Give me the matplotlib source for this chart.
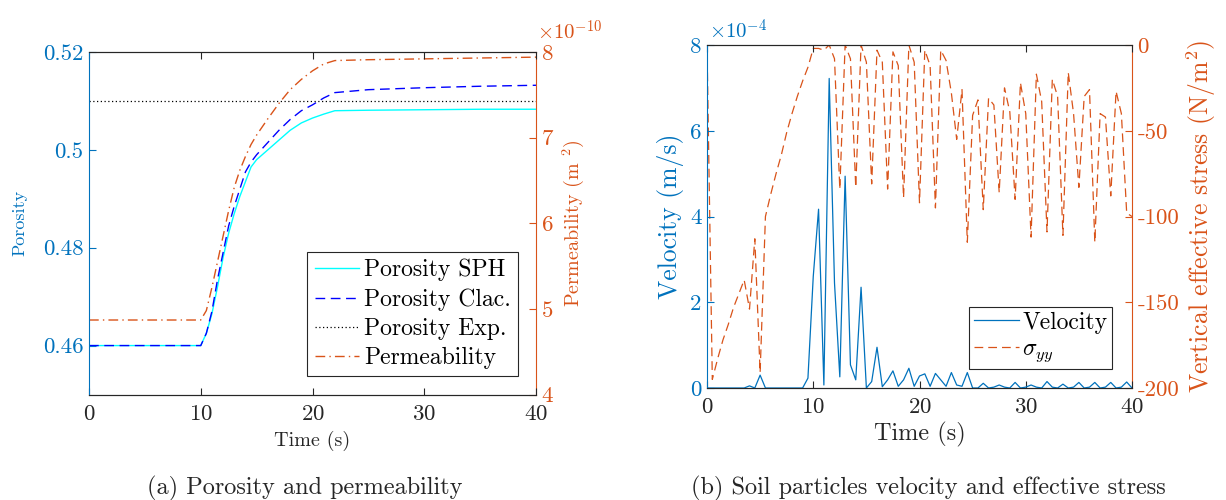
import matplotlib
matplotlib.use('Agg')
import matplotlib.pyplot as plt
import numpy as np
from matplotlib.lines import Line2D

plt.rcParams['font.family'] = ['cmr10', 'DejaVu Serif']
plt.rcParams['mathtext.fontset'] = 'cm'
plt.rcParams['axes.unicode_minus'] = False
plt.rcParams['axes.formatter.use_mathtext'] = True

BLUE = '#0072BD'
ORANGE = '#D95319'
GRAY = '#262626'

# ---------------- (a) porosity and permeability ----------------
time_a = [0, 10, 10.5, 11, 11.5, 12, 12.5, 13, 13.5, 14, 14.5, 15, 16, 17, 18,
          19, 20, 21, 22, 25, 30, 35, 40]
porosity_sph = [0.46, 0.46, 0.4625, 0.4665, 0.472, 0.478, 0.483, 0.487, 0.4905,
                0.4935, 0.4965, 0.498, 0.500, 0.502, 0.504, 0.5055, 0.5065,
                0.5073, 0.508, 0.5081, 0.5082, 0.5083, 0.5083]
porosity_calc = [0.46, 0.46, 0.4625, 0.467, 0.4735, 0.479, 0.4845, 0.4885, 0.492,
                 0.4955, 0.4975, 0.499, 0.5015, 0.504, 0.5062, 0.508, 0.5092,
                 0.5106, 0.5117, 0.5123, 0.5127, 0.513, 0.5132]
porosity_exp = [0.51] * len(time_a)
permeability_e10 = [4.87, 4.87, 4.98, 5.25, 5.55, 5.85, 6.15, 6.42, 6.62, 6.78,
                    6.92, 7.03, 7.22, 7.40, 7.56, 7.68, 7.78, 7.86, 7.90, 7.91,
                    7.92, 7.93, 7.94]
PERM_SCALE = 1e-10

# ---------------- (b) velocity and stress ----------------
time_b = np.arange(0, 40.5, 0.5)
velocity_e4 = [0, 0, 0, 0, 0, 0, 0, 0, 0.05, 0, 0.3, 0,
               0, 0, 0, 0, 0, 0, 0, 0.23, 2.6, 4.17, 0.07, 7.22,
               2.45, 0.26, 4.94, 0.54, 0.19, 2.35, 0, 0.15, 0.95, 0.03, 0.19, 0.4,
               0.04, 0.19, 0.46, 0.04, 0.28, 0.33, 0.04, 0.34, 0.19, 0.04, 0.36, 0.07,
               0.04, 0.36, 0, 0, 0.11, 0, 0.02, 0.07, 0.02, 0, 0.13, 0,
               0.02, 0.07, 0.02, 0, 0.15, 0.02, 0, 0.09, 0, 0.02, 0.13, 0,
               0.02, 0.13, 0, 0.02, 0.13, 0, 0.02, 0.14, 0]
VEL_SCALE = 1e-4
stress_yy = [0, -195, -183, -172, -163, -153, -145, -137, -154, -113, -191, -100,
             -87, -75, -64, -51, -40, -30, -21, -13, -2, -2, -3, 0,
             -8, -84, 0, -8, -83, 0, -10, -81, -3, -10, -84, -4,
             -12, -89, 0, -10, -92, -3, -12, -95, -3, -9, -28, -55,
             -26, -115, -41, -32, -96, -31, -35, -86, -25, -39, -90, -22,
             -40, -112, -17, -33, -109, -20, -30, -111, -16, -40, -83, -30,
             -26, -115, -40, -42, -88, -27, -40, -98, -100]

W, H = 1226, 500
fig = plt.figure(figsize=(W / 100, H / 100), dpi=100)


def frac(x0, y0, x1, y1):
    return [x0 / W, 1 - y1 / H, (x1 - x0) / W, (y1 - y0) / H]


TICK_FS = 16.5

# ---- left panel ----
ax = fig.add_axes(frac(89, 52, 536, 394.5))
ax2 = ax.twinx()
ax.set_zorder(ax2.get_zorder() + 1)
ax.patch.set_visible(False)

ax.plot(time_a, porosity_sph, color='cyan', lw=1.0, label='Porosity SPH')
ax.plot(time_a, porosity_calc, color='blue', lw=1.0, ls=(0, (7, 4)), label='Porosity Clac.')
ax.plot(time_a, porosity_exp, color='black', lw=0.9, ls=(0, (1, 2)), label='Porosity Exp.')
ax2.plot(time_a, np.array(permeability_e10) * PERM_SCALE, color=ORANGE, lw=1.0,
         ls=(0, (7, 3, 1, 3)))

ax.set_xlim(0, 40)
ax.set_ylim(0.45, 0.52)
ax.set_yticks([0.46, 0.48, 0.5, 0.52])
ax.set_yticklabels(['0.46', '0.48', '0.5', '0.52'])
ax.set_xticks([0, 10, 20, 30, 40])
ax2.set_ylim(4e-10, 8e-10)
ax2.set_yticks(np.array([4, 5, 6, 7, 8]) * PERM_SCALE)
ax2.set_yticklabels(['4', '5', '6', '7', '8'])

ax.tick_params(axis='x', direction='in', top=True, colors=GRAY, labelsize=TICK_FS, pad=7, length=5)
ax.tick_params(axis='y', direction='in', colors=BLUE, labelsize=TICK_FS, length=5, pad=4)
ax2.tick_params(axis='y', direction='in', colors=ORANGE, labelsize=TICK_FS, length=5, pad=4)
for s in ['top', 'bottom']:
    ax.spines[s].set_color(GRAY)
    ax2.spines[s].set_color(GRAY)
ax.spines['left'].set_color(BLUE)
ax.spines['right'].set_visible(False)
ax2.spines['left'].set_visible(False)
ax2.spines['right'].set_color(ORANGE)
for a in (ax, ax2):
    for s in a.spines.values():
        s.set_linewidth(0.8)

ax.set_xlabel('Time (s)', fontsize=14.5, color=GRAY, labelpad=5)
ax.set_ylabel('Porosity', fontsize=13, color=BLUE, labelpad=11)
ax2.set_ylabel(r'Permeability (m $^{2}$)', fontsize=14.5, color=ORANGE, labelpad=5)
fig.text(537 / W, 1 - 40 / H, r'$\times10^{-10}$', color=ORANGE, fontsize=15, ha='left', va='baseline')

handles = [Line2D([], [], color='cyan', lw=1.0),
           Line2D([], [], color='blue', lw=1.0, ls=(0, (7, 4))),
           Line2D([], [], color='black', lw=0.9, ls=(0, (1, 2))),
           Line2D([], [], color=ORANGE, lw=1.0, ls=(0, (7, 3, 1, 3)))]
leg = ax.legend(handles, ['Porosity SPH', 'Porosity Clac.', 'Porosity Exp.', 'Permeability'],
                loc='lower right', bbox_to_anchor=(0.96, 0.053), fontsize=17,
                frameon=True, fancybox=False, framealpha=1, edgecolor=GRAY,
                handlelength=1.9, handletextpad=0.2, borderpad=0.3, labelspacing=0.3,
                borderaxespad=0)
leg.get_frame().set_linewidth(0.8)

fig.text(305 / W, 1 - 488 / H, '(a) Porosity and permeability', ha='center', va='center',
         fontsize=17.5, color=GRAY)

# ---- right panel ----
bx = fig.add_axes(frac(707, 45, 1132, 388))
bx2 = bx.twinx()
bx.set_zorder(bx2.get_zorder() + 1)
bx.patch.set_visible(False)

bx.plot(time_b, np.array(velocity_e4) * VEL_SCALE, color=BLUE, lw=0.9)
bx2.plot(time_b, stress_yy, color=ORANGE, lw=0.9, ls=(0, (7, 4)))

bx.set_xlim(0, 40)
bx.set_ylim(0, 8e-4)
bx.set_yticks(np.array([0, 2, 4, 6, 8]) * VEL_SCALE)
bx.set_yticklabels(['0', '2', '4', '6', '8'])
bx.set_xticks([0, 10, 20, 30, 40])
bx2.set_ylim(-200, 0)
bx2.set_yticks([-200, -150, -100, -50, 0])
bx2.set_yticklabels(['-200', '-150', '-100', '-50', '0'])

bx.tick_params(axis='x', direction='in', top=True, colors=GRAY, labelsize=TICK_FS, pad=7, length=5)
bx.tick_params(axis='y', direction='in', colors=BLUE, labelsize=TICK_FS, length=5, pad=4)
bx2.tick_params(axis='y', direction='in', colors=ORANGE, labelsize=TICK_FS, length=5, pad=4)
for s in ['top', 'bottom']:
    bx.spines[s].set_color(GRAY)
    bx2.spines[s].set_color(GRAY)
bx.spines['left'].set_color(BLUE)
bx.spines['right'].set_visible(False)
bx2.spines['left'].set_visible(False)
bx2.spines['right'].set_color(ORANGE)
for a in (bx, bx2):
    for s in a.spines.values():
        s.set_linewidth(0.8)

bx.set_xlabel('Time (s)', fontsize=17.5, color=GRAY, labelpad=3)
bx.set_ylabel('Velocity (m/s)', fontsize=18.5, color=BLUE, labelpad=4)
bx2.set_ylabel(r'Vertical effective stress (N/m$^2$)', fontsize=18.5, color=ORANGE, labelpad=4)
fig.text(709 / W, 1 - 39 / H, r'$\times10^{-4}$', color=BLUE, fontsize=15, ha='left', va='baseline')

handles_b = [Line2D([], [], color=BLUE, lw=0.9),
             Line2D([], [], color=ORANGE, lw=0.9, ls=(0, (7, 4)))]
legb = bx.legend(handles_b, ['Velocity', r'$\sigma_{yy}$'],
                 loc='lower right', bbox_to_anchor=(0.953, 0.055), fontsize=17,
                 frameon=True, fancybox=False, framealpha=1, edgecolor=GRAY,
                 handlelength=1.9, handletextpad=0.15, borderpad=0.2, labelspacing=0.2,
                 borderaxespad=0)
legb.get_frame().set_linewidth(0.8)

fig.text(928 / W, 1 - 488 / H, '(b) Soil particles velocity and effective stress',
         ha='center', va='center', fontsize=17.5, color=GRAY)

fig.savefig('out.png', dpi=100)
